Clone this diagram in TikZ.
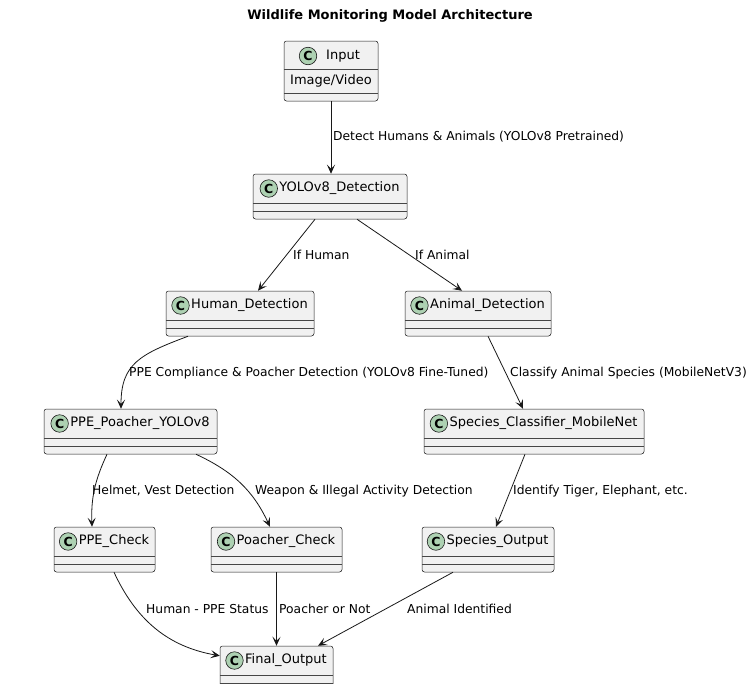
\documentclass[tikz,border=0pt]{standalone}
\usepackage{fontspec}
\setmainfont{DejaVu Sans}
\usetikzlibrary{arrows.meta,calc}
\definecolor{boxfill}{HTML}{F1F1F1}
\definecolor{boxline}{HTML}{181818}
\definecolor{iconfill}{HTML}{ADD1B2}
\tikzset{
  classbox/.style={draw=boxline, line width=0.5pt, fill=boxfill, rounded corners=2.5pt, inner sep=0pt},
  sepline/.style={draw=boxline!80, line width=0.5pt},
  cname/.style={font=\fontsize{13}{15}\selectfont, inner sep=0pt, anchor=center},
  cicon/.style={circle, draw=boxline, line width=0.6pt, fill=iconfill, minimum size=17.5pt, inner sep=0pt, font=\fontsize{12.5}{14}\selectfont\bfseries},
  edge/.style={draw=boxline, line width=0.8pt, -{Stealth[length=9pt,width=8pt,inset=4pt]}},
  elabel/.style={font=\fontsize{12.3}{15}\selectfont, inner sep=0pt, anchor=west},
}
% name, cx, top, width, title
\newcommand\umlclass[5]{%
  \node[classbox, minimum width=#4pt, minimum height=45pt] (#1) at (#2,#3+22.5) {};
  \node[cname] (#1-t) at (#2+9.5,#3+14.5) {#5};
  \node[cicon] (#1-c) at ($(#1-t.west)+(-10.5pt,0)$) {C};
  \draw[sepline] ($(#1.north west)+(0,-29pt)$) -- ($(#1.north east)+(0,-29pt)$);
  \draw[sepline] ($(#1.north west)+(0,-37pt)$) -- ($(#1.north east)+(0,-37pt)$);
}
\begin{document}
\begin{tikzpicture}[x=1pt,y=-1pt]
\useasboundingbox (0,0) rectangle (754,683);
\clip (0,0) rectangle (754,683);
\node[font=\fontsize{13}{15}\selectfont\bfseries, inner sep=0pt] (title) at (390,16) {Wildlife Monitoring Model Architecture};

% Input class with attribute
\node[classbox, minimum width=94pt, minimum height=60pt] (in) at (331,71) {};
\node[cicon] (in-c) at (308,56) {C};
\node[cname, anchor=west] (in-t) at (326,56) {Input};
\draw[sepline] ($(in.north west)+(0,-28pt)$) -- ($(in.north east)+(0,-28pt)$);
\node[cname] (in-a) at (331,81) {Image/Video};
\draw[sepline] ($(in.north west)+(0,-52pt)$) -- ($(in.north east)+(0,-52pt)$);

\umlclass{yolo}{330}{174}{154}{YOLOv8\_Detection}
\umlclass{hd}{240}{291}{148}{Human\_Detection}
\umlclass{ad}{478}{291}{146}{Animal\_Detection}
\umlclass{pp}{130.5}{409}{173}{PPE\_Poacher\_YOLOv8}
\umlclass{sc}{534}{409}{220}{Species\_Classifier\_MobileNet}
\umlclass{pc}{104.5}{527}{101}{PPE\_Check}
\umlclass{pq}{276.5}{527}{131}{Poacher\_Check}
\umlclass{so}{488}{527}{132}{Species\_Output}
\umlclass{fo}{276.5}{646}{113}{Final\_Output}

% edges
\draw[edge] (in.south) -- (in.south |- yolo.north);
\draw[edge] ([xshift=-15pt]yolo.south) -- ([xshift=18pt]hd.north);
\draw[edge] ([xshift=27pt]yolo.south) -- ([xshift=-16pt]ad.north);
\draw[edge] ([xshift=-52pt]hd.south) .. controls ([xshift=-100pt,yshift=-18pt]hd.south) and ([xshift=-9.5pt,yshift=45pt]pp.north) .. ([xshift=-9.5pt]pp.north);
\draw[edge] ([xshift=10pt]ad.south) -- ([xshift=-11pt]sc.north);
\draw[edge] ([xshift=-23.5pt]pp.south) to[out=-115,in=92] ([xshift=-12.5pt]pc.north);
\draw[edge] ([xshift=65.5pt]pp.south) to[out=-25,in=115] ([xshift=-6.5pt]pq.north);
\draw[edge] ([xshift=-9pt]sc.south) -- ([xshift=8pt]so.north);
\draw[edge] ([xshift=9.5pt]pc.south) to[out=-65,in=170] ([yshift=-10pt]fo.north west);
\draw[edge] (pq.south) -- (pq.south |- fo.north);
\draw[edge] ([xshift=-35pt]so.south) -- ([xshift=41.5pt]fo.north);

% labels
\node[elabel] (l1) at (333,137) {Detect Humans \& Animals (YOLOv8 Pretrained)};
\node[elabel] (l2) at (293,255) {If Human};
\node[elabel] (l3) at (415,255) {If Animal};
\node[elabel] (l4) at (129,373) {PPE Compliance \& Poacher Detection (YOLOv8 Fine-Tuned)};
\node[elabel] (l5) at (510,373) {Classify Animal Species (MobileNetV3)};
\node[elabel] (l6) at (92,491) {Helmet, Vest Detection};
\node[elabel] (l7) at (255,491) {Weapon \& Illegal Activity Detection};
\node[elabel] (l8) at (513,491) {Identify Tiger, Elephant, etc.};
\node[elabel] (l9) at (146,609) {Human - PPE Status};
\node[elabel] (l10) at (279,609) {Poacher or Not};
\node[elabel] (l11) at (407,609) {Animal Identified};
\end{tikzpicture}
\end{document}
